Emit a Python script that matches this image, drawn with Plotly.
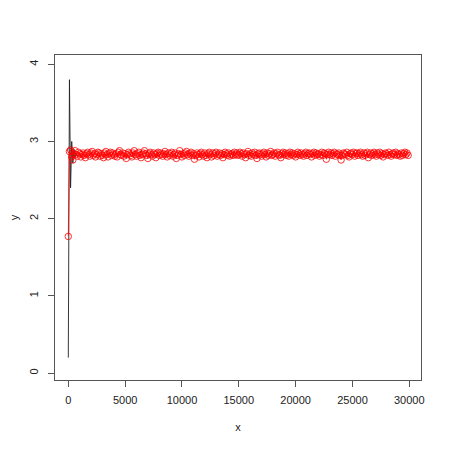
import plotly.graph_objects as go

# black trace: early part of the run
black_x = [0, 100, 200, 300, 400, 500, 600, 700]
black_y = [0.20, 3.80, 2.40, 3.00, 2.72, 2.90, 2.80, 2.84]

# red trace: sampled every 100
red_y = [
    1.77, 2.87, 2.89, 2.80, 2.76, 2.84, 2.88, 2.83, 2.81, 2.86,
    2.84, 2.80, 2.83, 2.85, 2.82, 2.79, 2.84, 2.86, 2.83, 2.81,
    2.85, 2.87, 2.82, 2.84, 2.80, 2.83, 2.86, 2.85, 2.81, 2.84,
    2.82, 2.79, 2.85, 2.87, 2.83, 2.80, 2.84, 2.86, 2.82, 2.85,
    2.83, 2.81, 2.84, 2.80, 2.86, 2.88, 2.83, 2.82, 2.85, 2.81,
    2.84, 2.78, 2.83, 2.86, 2.84, 2.82, 2.80, 2.85, 2.88, 2.83,
    2.81, 2.84, 2.86, 2.82, 2.79, 2.83, 2.85, 2.88, 2.84, 2.82,
    2.78, 2.84, 2.86, 2.83, 2.81, 2.85, 2.83, 2.79, 2.84, 2.86,
    2.82, 2.85, 2.83, 2.81, 2.84, 2.87, 2.83, 2.80, 2.85, 2.82,
    2.84, 2.86, 2.81, 2.83, 2.85, 2.78, 2.82, 2.84, 2.88, 2.83,
    2.80, 2.84, 2.82, 2.85, 2.87, 2.83, 2.81, 2.84, 2.86, 2.82,
    2.84, 2.77, 2.82, 2.85, 2.83, 2.80, 2.84, 2.86, 2.83, 2.81,
    2.85, 2.82, 2.79, 2.84, 2.86, 2.83, 2.80, 2.85, 2.82, 2.84,
    2.86, 2.81, 2.83, 2.85, 2.82, 2.84, 2.79, 2.83, 2.86, 2.84,
    2.82, 2.85, 2.81, 2.83, 2.84, 2.82, 2.86, 2.83, 2.85, 2.82,
    2.83, 2.86, 2.84, 2.81, 2.85, 2.83, 2.79, 2.84, 2.87, 2.82,
    2.84, 2.81, 2.85, 2.83, 2.86, 2.82, 2.78, 2.84, 2.85, 2.83,
    2.81, 2.84, 2.86, 2.83, 2.80, 2.85, 2.82, 2.84, 2.87, 2.82,
    2.83, 2.85, 2.81, 2.84, 2.86, 2.83, 2.82, 2.79, 2.84, 2.86,
    2.83, 2.85, 2.82, 2.84, 2.81, 2.86, 2.83, 2.85, 2.82, 2.84,
    2.80, 2.83, 2.86, 2.84, 2.82, 2.85, 2.83, 2.81, 2.84, 2.86,
    2.82, 2.84, 2.85, 2.83, 2.80, 2.84, 2.86, 2.82, 2.85, 2.83,
    2.84, 2.81, 2.83, 2.86, 2.82, 2.85, 2.84, 2.77, 2.83, 2.86,
    2.83, 2.85, 2.82, 2.84, 2.86, 2.81, 2.84, 2.83, 2.85, 2.82,
    2.76, 2.82, 2.85, 2.84, 2.83, 2.86, 2.82, 2.80, 2.84, 2.85,
    2.83, 2.86, 2.81, 2.84, 2.85, 2.82, 2.84, 2.86, 2.83, 2.81,
    2.85, 2.82, 2.84, 2.86, 2.79, 2.83, 2.85, 2.82, 2.84, 2.86,
    2.83, 2.81, 2.85, 2.83, 2.86, 2.82, 2.84, 2.80, 2.83, 2.85,
    2.84, 2.82, 2.86, 2.83, 2.81, 2.84, 2.85, 2.83, 2.86, 2.82,
    2.84, 2.83, 2.81, 2.85, 2.82, 2.84, 2.86, 2.83, 2.85, 2.82,
]
red_x = [i * 100 for i in range(len(red_y))]

x_ticks = [0, 5000, 10000, 15000, 20000, 25000, 30000]
y_ticks = [0, 1, 2, 3, 4]

fig = go.Figure()
fig.add_trace(go.Scatter(x=black_x, y=black_y, mode="lines",
                         line=dict(color="#222", width=0.9)))
fig.add_trace(go.Scatter(x=red_x, y=red_y, mode="lines+markers",
                         line=dict(color="#ff0000", width=0.8),
                         marker=dict(symbol="circle-open", size=6.5,
                                     color="#ff0000", line=dict(width=0.8))))

font = dict(family="Liberation Sans, Arial, sans-serif", size=11, color="#222")
axis_common = dict(showgrid=False, zeroline=False, showline=True, mirror=True,
                   linecolor="#555", linewidth=1, ticks="outside", ticklen=6,
                   tickcolor="#555", tickfont=font, automargin=False)

# page body has an 8px margin, so the margins are shifted by 8
fig.update_layout(
    width=450, height=450,
    margin=dict(l=47, r=37, t=47, b=78),
    plot_bgcolor="white", paper_bgcolor="white",
    showlegend=False,
    xaxis=dict(range=[-1170, 31030], tickvals=x_ticks,
               ticktext=[str(v) for v in x_ticks], ticklabelstandoff=4,
               title=dict(text="x", font=font, standoff=18), **axis_common),
    yaxis=dict(range=[-0.09, 4.12], tickvals=y_ticks,
               ticktext=[str(v) for v in y_ticks], tickangle=-90,
               ticklabelstandoff=6,
               title=dict(text="y", font=font, standoff=24), **axis_common),
)

fig.write_html("out.html")
